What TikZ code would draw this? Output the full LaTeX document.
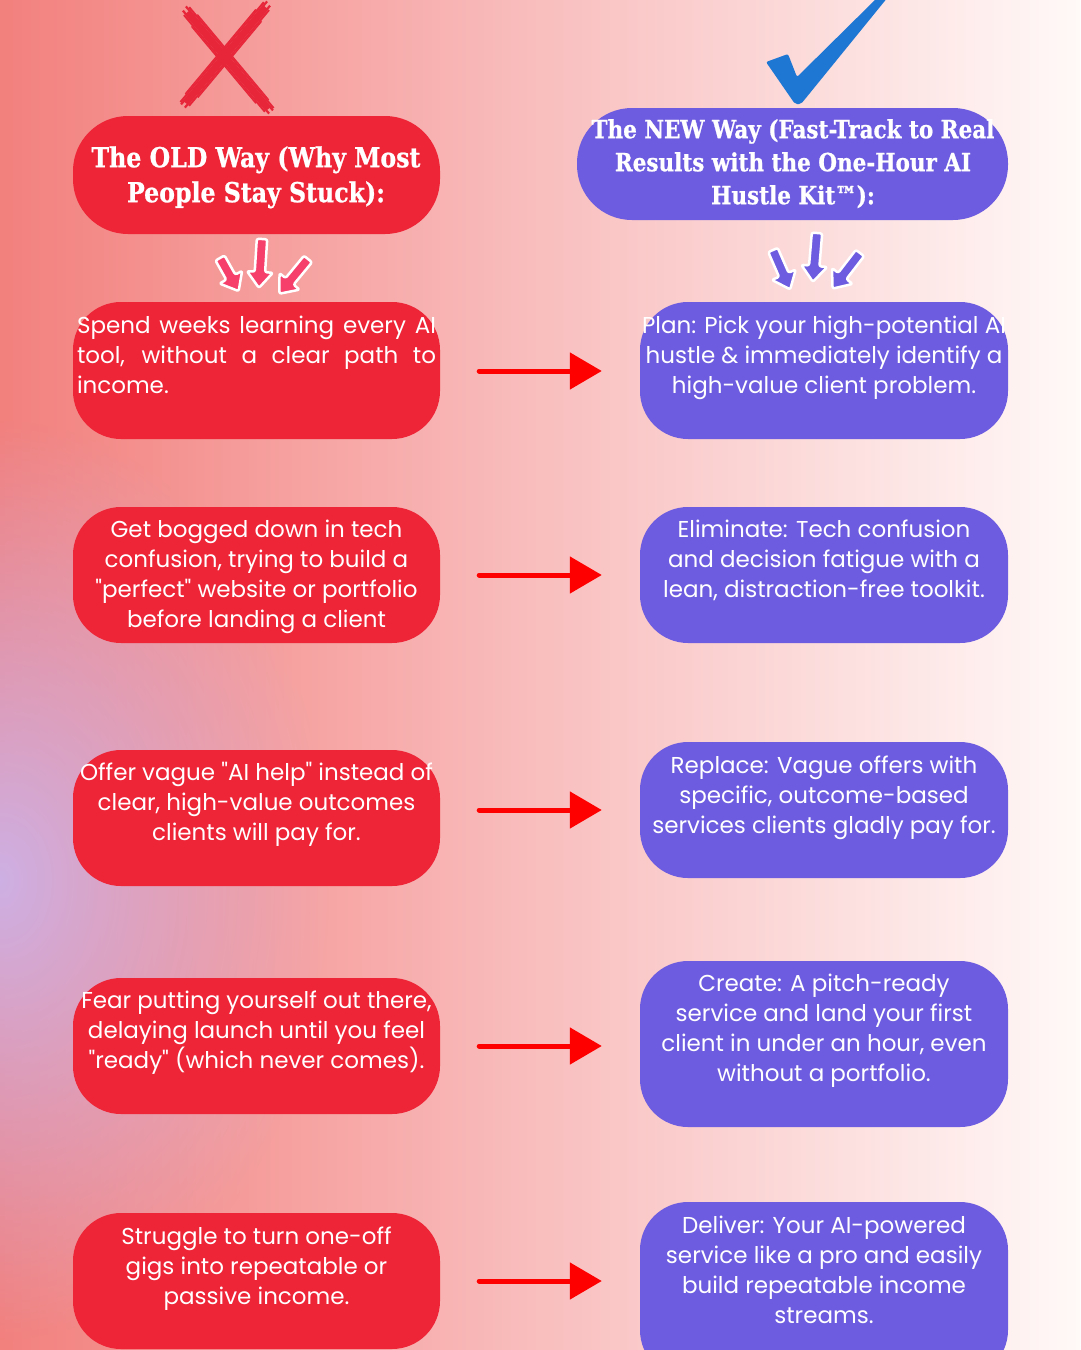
\documentclass[tikz,border=0pt]{standalone}
\usepackage{fontspec}
\setmainfont{Poppins}[Ligatures=TeXOff]
\newfontfamily\headfont{DejaVu Serif}[FakeStretch=0.86,FakeBold=0.8]
\usetikzlibrary{arrows.meta,fadings,calc}
\tikzfading[name=glowfade, inner color=transparent!0, outer color=transparent!100]
\definecolor{bgL}{RGB}{242,128,125}
\definecolor{bgM}{RGB}{249,190,190}
\definecolor{bgR}{RGB}{255,249,248}
\definecolor{lav}{RGB}{206,176,228}
\definecolor{boxred}{RGB}{238,36,55}
\definecolor{boxpur}{RGB}{109,92,223}
\definecolor{arrred}{RGB}{255,0,0}
\definecolor{pinkarr}{RGB}{246,64,107}
\definecolor{xred}{RGB}{232,38,58}
\definecolor{chkblue}{RGB}{31,119,212}
\tikzset{
  oldbox/.style={fill=boxred, rounded corners=48pt, inner sep=0pt, minimum width=367pt},
  newbox/.style={fill=boxpur, rounded corners=48pt, inner sep=0pt, minimum width=368pt},
  bodytxt/.style={text=white, inner sep=0pt, align=center, anchor=north, font=\fontsize{23}{30}\selectfont},
  headtxt/.style={text=white, inner sep=0pt, align=center, anchor=north},
  bigarr/.style={arrred, line width=5pt, line cap=round, -{Triangle[length=32pt,width=36pt]}, shorten <=39pt, shorten >=38pt},
  pics/sarr/.style n args={2}{code={
    \filldraw[fill=#2, draw=white, line width=2.5pt, line join=round, rounded corners=2pt]
      (0,-5.2) -- (#1-16,-5.2) -- (#1-16,-13) -- (#1,0) -- (#1-16,13) -- (#1-16,5.2) -- (0,5.2) -- cycle;}}
}
\newcommand{\sr}[1]{\rule{0pt}{#1pt}}
\begin{document}
\begin{tikzpicture}[x=1pt,y=-1pt]
\clip (0,0) rectangle (1080,1350);
% background
\shade[left color=bgL, right color=bgR, middle color=bgM] (0,0) rectangle (1080,1350);
\fill[lav, path fading=glowfade] (0,880) ellipse (330 and 460);

% X mark
\coordinate (x1a) at (184,8); \coordinate (x1b) at (271,112);
\coordinate (x2a) at (269,3); \coordinate (x2b) at (183,106);
\draw[xred, line width=6pt] ($(x1a)!0.04!(x1b)$) -- ($(x1a)!0.97!(x1b)$);
\draw[xred, line width=6pt] ($(x2a)!0.04!(x2b)$) -- ($(x2a)!0.97!(x2b)$);
\foreach \d/\s/\e/\w in {-6/0.10/0.92/1.4, -4.5/0.02/0.99/2, -2.5/0/1/2.2, 2.5/0.01/1/2.2, 4.5/0.04/0.97/2, 6/0.14/0.88/1.4}{
  \draw[xred, line width=\w pt] ($(x1a)!\s!(x1b)+({-0.774*\d},{0.635*\d})$) -- ($(x1a)!\e!(x1b)+({-0.774*\d},{0.635*\d})$);
  \draw[xred, line width=\w pt] ($(x2a)!\s!(x2b)+({0.763*\d},{0.644*\d})$) -- ($(x2a)!\e!(x2b)+({0.763*\d},{0.644*\d})$);
}

% check mark
\fill[chkblue, rounded corners=2pt] (766,62) -- (788,54) -- (797,77) -- (878,-3) -- (888,-3) -- (801,104) -- (795,104) -- cycle;

% headers
\node[fill=boxred, rounded corners=55pt, inner sep=0pt, minimum width=367pt, minimum height=118pt] (hOld) at (256.5,175) {};
\node[fill=boxpur, rounded corners=55pt, inner sep=0pt, minimum width=431pt, minimum height=112pt] (hNew) at (792.5,164) {};
\node[headtxt, font=\headfont\bfseries\fontsize{27.5}{35}\selectfont] (hOldT) at (256,143) {\sr{24}The OLD Way (Why Most\\People Stay Stuck):};
\node[headtxt, font=\headfont\bfseries\fontsize{25}{33}\selectfont] (hNewT) at (793,116) {\sr{22}The NEW Way (Fast-Track to Real\\Results with the One-Hour AI\\Hustle Kit™):};

% small arrows
\pic[rotate=-60.6] at (220,258) {sarr={38}{pinkarr}};
\pic[rotate=-93.6] at (262,239) {sarr={49}{pinkarr}};
\pic[rotate=-129.5] at (308,259) {sarr={45}{pinkarr}};
\pic[rotate=-66.4] at (773,250) {sarr={43}{boxpur}};
\pic[rotate=-94.8] at (817,233) {sarr={49}{boxpur}};
\pic[rotate=-127.6] at (860,253) {sarr={45}{boxpur}};

% boxes
\node[oldbox, minimum height=137pt] (o1) at (256.5,370.5) {};
\node[oldbox, minimum height=136pt] (o2) at (256.5,575) {};
\node[oldbox, minimum height=136pt] (o3) at (256.5,818) {};
\node[oldbox, minimum height=136pt] (o4) at (256.5,1046) {};
\node[oldbox, minimum height=136pt] (o5) at (256.5,1281) {};
\node[newbox, minimum height=137pt] (n1) at (824,370.5) {};
\node[newbox, minimum height=136pt] (n2) at (824,575) {};
\node[newbox, minimum height=136pt] (n3) at (824,810) {};
\node[newbox, minimum height=166pt] (n4) at (824,1044) {};
\node[newbox, minimum height=176pt] (n5) at (824,1290) {};

% texts
\node[bodytxt] (o1t) at (256.5,313) {\sr{20}\makebox[359pt][s]{Spend weeks learning every AI}\\\makebox[359pt][s]{tool, without a clear path to}\\\makebox[359pt][l]{income.}};
\node[bodytxt] (n1t) at (824,313) {\sr{20}Plan: Pick your high-potential AI\\hustle \& immediately identify a\\high-value client problem.};
\node[bodytxt] (o2t) at (256.5,517) {\sr{20}Get bogged down in tech\\confusion, trying to build a\\"perfect" website or portfolio\\before landing a client};
\node[bodytxt] (n2t) at (824,517) {\sr{20}Eliminate: Tech confusion\\and decision fatigue with a\\lean, distraction-free toolkit.};
\node[bodytxt] (o3t) at (256.5,760) {\sr{20}Offer vague "AI help" instead of\\clear, high-value outcomes\\clients will pay for.};
\node[bodytxt] (n3t) at (824,753) {\sr{20}Replace: Vague offers with\\specific, outcome-based\\services clients gladly pay for.};
\node[bodytxt] (o4t) at (256.5,988) {\sr{20}Fear putting yourself out there,\\delaying launch until you feel\\"ready" (which never comes).};
\node[bodytxt] (n4t) at (824,971) {\sr{20}Create: A pitch-ready\\service and land your first\\client in under an hour, even\\without a portfolio.};
\node[bodytxt] (o5t) at (256.5,1224) {\sr{20}Struggle to turn one-off\\gigs into repeatable or\\passive income.};
\node[bodytxt] (n5t) at (824,1213) {\sr{20}Deliver: Your AI-powered\\service like a pro and easily\\build repeatable income\\streams.};

% connectors
\coordinate (a1) at (0,371);
\coordinate (a2) at (0,575);
\coordinate (a3) at (0,810);
\coordinate (a4) at (0,1046);
\coordinate (a5) at (0,1281);
\draw[bigarr] (o1.east |- a1) -- (n1.west |- a1);
\draw[bigarr] (o2.east |- a2) -- (n2.west |- a2);
\draw[bigarr] (o3.east |- a3) -- (n3.west |- a3);
\draw[bigarr] (o4.east |- a4) -- (n4.west |- a4);
\draw[bigarr] (o5.east |- a5) -- (n5.west |- a5);
\end{tikzpicture}
\end{document}
